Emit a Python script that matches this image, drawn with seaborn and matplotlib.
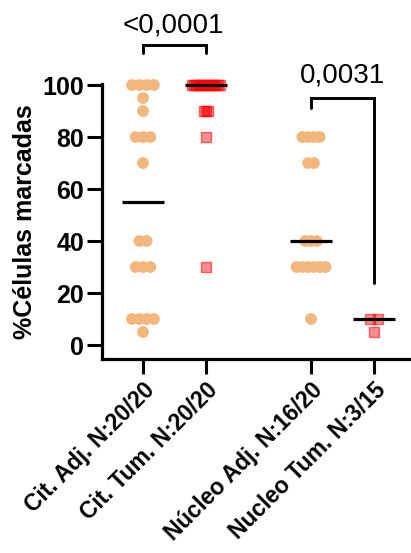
import numpy as np
import pandas as pd
import matplotlib
matplotlib.use("Agg")
import matplotlib.pyplot as plt
import seaborn as sns

# ---- data -------------------------------------------------------------
categories = ["Cit. Adj. N:20/20", "Cit. Tum. N:20/20",
              "Núcleo Adj. N:16/20", "Nucleo Tum. N:3/15"]

cit_adj = [100, 100, 100, 100, 95, 90, 80, 80, 80, 70,
           40, 40, 30, 30, 30, 10, 10, 10, 10, 5]
cit_tum = [100, 100, 100, 100, 100, 100, 100, 100, 100, 100,
           100, 100, 100, 100, 100, 90, 90, 90, 80, 30]
nuc_adj = [80, 80, 80, 80, 70, 70, 40, 40, 40,
           30, 30, 30, 30, 30, 30, 10]
nuc_tum = [10, 10, 5]

y_ticks = [0, 20, 40, 60, 80, 100]
p_labels = ["<0,0001", "0,0031"]

# ---- layout -----------------------------------------------------------
group_pos = [0.0, 1.0, 2.667, 3.667]
max_step = 0.116      # horizontal step between stacked points
max_span = 0.46       # widest spread allowed for one row

sns.set_style("ticks")
plt.rcParams["font.family"] = ["Liberation Sans", "DejaVu Sans"]
for key in ("text.color", "axes.labelcolor", "xtick.color", "ytick.color"):
    plt.rcParams[key] = "black"

fig = plt.figure(figsize=(4.11, 5.53), dpi=100)
ax = fig.add_axes([101.5 / 411, 1 - 359 / 553, (411 - 101.5) / 411, (359 - 84) / 553])


def spread(values, center):
    """Place equal values side by side around the group centre."""
    vals = np.asarray(values, dtype=float)
    uniq, counts = np.unique(vals, return_counts=True)
    widest = counts.max()
    step = max_step if widest < 2 else min(max_step, max_span / (widest - 1))
    xs = np.empty_like(vals)
    seen = {}
    for i, v in enumerate(vals):
        n = counts[uniq == v][0]
        k = seen.get(v, 0)
        seen[v] = k + 1
        xs[i] = center + (k - (n - 1) / 2) * step
    return xs


groups = [cit_adj, cit_tum, nuc_adj, nuc_tum]
frames = []
for name, vals, pos in zip(categories, groups, group_pos):
    frames.append(pd.DataFrame({"grupo": name, "valor": vals,
                                "x": spread(vals, pos)}))
df = pd.concat(frames, ignore_index=True)

adj = df[df["grupo"].isin([categories[0], categories[2]])]
tum = df[df["grupo"].isin([categories[1], categories[3]])]

sns.scatterplot(data=adj, x="x", y="valor", ax=ax, marker="o", s=72,
                color="#F3B77D", edgecolor="none", linewidth=0, zorder=3,
                legend=False, clip_on=False)
sns.scatterplot(data=tum, x="x", y="valor", ax=ax, marker="s", s=62,
                facecolor=(1, 0, 0, 0.45), edgecolor=(1, 0, 0, 0.55),
                linewidth=1.0, zorder=3, legend=False, clip_on=False)

# median lines
for vals, pos in zip(groups, group_pos):
    ax.hlines(np.median(vals), pos - 0.333, pos + 0.333, color="black",
              linewidth=2.3, zorder=4, clip_on=False)

# significance brackets
lw = 2.1
b1_y, b1_leg = 115.4, 112.3
ax.plot([group_pos[0], group_pos[0], group_pos[1], group_pos[1]],
        [b1_leg, b1_y, b1_y, b1_leg], color="black", lw=lw, clip_on=False,
        solid_joinstyle="miter")
ax.text((group_pos[0] + group_pos[1]) / 2 - 0.02, 120.4, p_labels[0],
        ha="center", va="baseline", fontsize=20, clip_on=False)

b2_y = 95.0
ax.plot([group_pos[2], group_pos[2], group_pos[3], group_pos[3]],
        [91.2, b2_y, b2_y, 23.8], color="black", lw=lw, clip_on=False,
        solid_joinstyle="miter")
ax.text((group_pos[2] + group_pos[3]) / 2, 100.8, p_labels[1],
        ha="center", va="baseline", fontsize=20, clip_on=False)

# axes styling
ax.set_xlim(-0.659, 4.254)
ax.set_ylim(-5.38, 100.4)
ax.set_yticks(y_ticks)
ax.set_yticklabels([str(t) for t in y_ticks], fontsize=18, fontweight="bold")
ax.set_xticks(group_pos)
ax.set_xticklabels(categories, fontsize=16.5, fontweight="bold", rotation=45,
                   ha="right", rotation_mode="anchor")
ax.set_xlabel("")
ax.set_ylabel("%Células marcadas", fontsize=18, fontweight="bold", labelpad=4)
ax.spines["top"].set_visible(False)
ax.spines["right"].set_visible(False)
for side in ("left", "bottom"):
    ax.spines[side].set_linewidth(2.3)
    ax.spines[side].set_color("black")
ax.tick_params(axis="both", length=11, width=2.2, color="black")
ax.tick_params(axis="y", pad=1.5)
ax.tick_params(axis="x", pad=3)

fig.savefig("out.png", dpi=100)
